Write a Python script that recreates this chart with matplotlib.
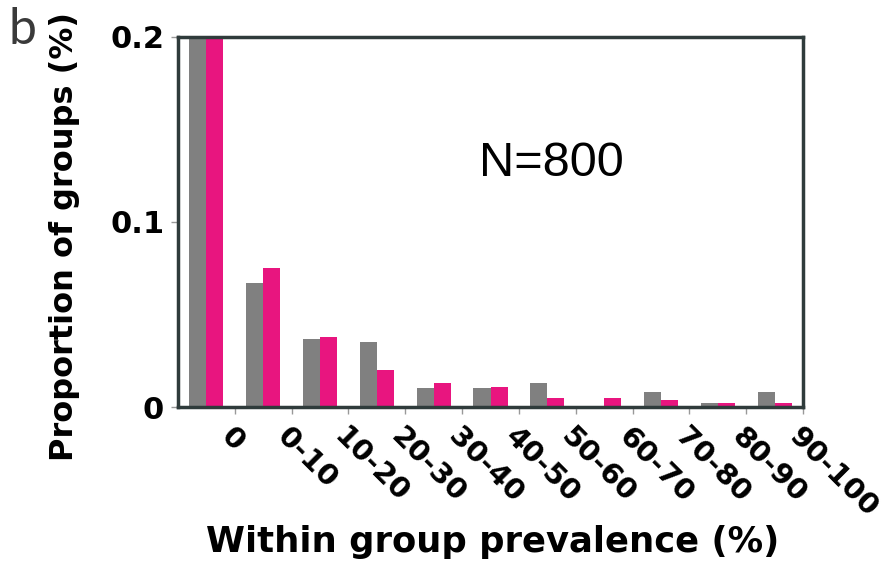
import numpy as np
import matplotlib
matplotlib.use("Agg")
import matplotlib.pyplot as plt

# bins of within-group prevalence
categories = ["0", "0-10", "10-20", "20-30", "30-40", "40-50",
              "50-60", "60-70", "70-80", "80-90", "90-100"]
# first bin runs off the top of the axis in the original
gray_vals = [0.62, 0.067, 0.037, 0.035, 0.010, 0.010, 0.013, 0.0, 0.008, 0.002, 0.008]
pink_vals = [0.64, 0.075, 0.038, 0.020, 0.013, 0.011, 0.005, 0.005, 0.004, 0.002, 0.002]
y_ticks = [0, 0.1, 0.2]
y_tick_labels = ["0", "0.1", "0.2"]

GRAY = "#808080"
PINK = "#e8157f"
SPINE = "#2f3b3b"

fig = plt.figure(figsize=(8.92, 5.62), dpi=100)
ax = fig.add_axes([0.1996, 0.2758, 0.7006, 0.6584])

x = np.arange(len(categories))
ax.bar(x - 0.3, gray_vals, width=0.3, align="edge", color=GRAY, linewidth=0)
ax.bar(x, pink_vals, width=0.3, align="edge", color=PINK, linewidth=0)

ax.set_xlim(-0.5, len(categories) - 0.5)
ax.set_ylim(0, 0.2)

# tick marks sit on the bin boundaries, labels hang off them
ax.set_xticks(x + 0.5)
ax.set_xticklabels(categories, rotation=-45, rotation_mode="anchor",
                   ha="left", va="top", fontsize=21, fontweight="bold")
ax.set_yticks(y_ticks)
ax.set_yticklabels(y_tick_labels, fontsize=22, fontweight="bold")
ax.tick_params(axis="both", length=5, width=1, color="#999999", pad=5)
ax.tick_params(axis="x", pad=6)

for side in ["left", "right", "top", "bottom"]:
    ax.spines[side].set_color(SPINE)
    ax.spines[side].set_linewidth(2.5)

ax.set_ylabel("Proportion of groups (%)", fontsize=23, fontweight="bold")
ax.set_xlabel("Within group prevalence (%)", fontsize=25.5, fontweight="bold")
ax.yaxis.set_label_coords(-0.157, 0.46)
ax.xaxis.set_label_coords(0.503, -0.32)

ax.text(6.08, 0.125, "N=800", fontsize=35, family="Liberation Sans",
        ha="center", va="baseline")
fig.text(0.010, 0.922, "b", fontsize=36, family=["Lato", "DejaVu Sans"],
         color="#3a3a3a")

fig.savefig("out.png", dpi=100)
